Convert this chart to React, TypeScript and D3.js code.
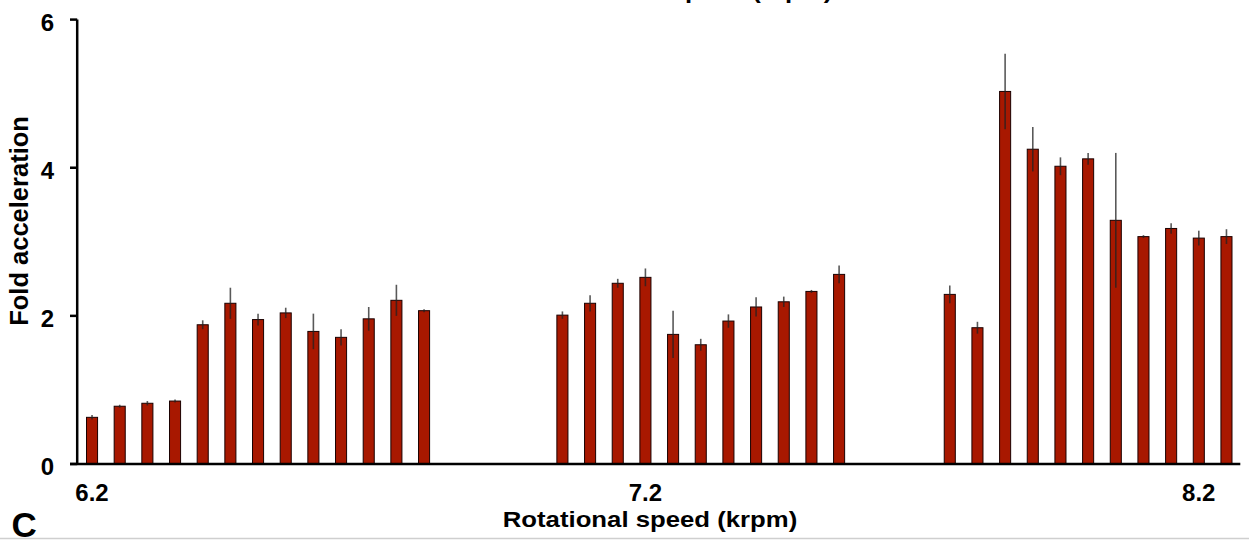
import React from "react";
import * as d3 from "d3";

// Category slots on the rotational-speed axis (krpm)
const slots = [
  "6.20", "6.25", "6.30", "6.35", "6.40", "6.45", "6.50", "6.55", "6.60", "6.65",
  "6.70", "6.75", "6.80", "6.85", "6.90", "6.95", "7.00", "7.05", "7.10", "7.15",
  "7.20", "7.25", "7.30", "7.35", "7.40", "7.45", "7.50", "7.55", "7.60", "7.65",
  "7.70", "7.75", "7.80", "7.85", "7.90", "7.95", "8.00", "8.05", "8.10", "8.15",
  "8.20", "8.25",
];
const tickSlots = ["6.20", "7.20", "8.20"];
const tickLabels = ["6.2", "7.2", "8.2"];
const yTicks = [0, 2, 4, 6];

const group1Speeds = ["6.20", "6.25", "6.30", "6.35", "6.40", "6.45", "6.50", "6.55", "6.60", "6.65", "6.70", "6.75", "6.80"];
const group1Means = [0.63, 0.78, 0.82, 0.85, 1.88, 2.17, 1.95, 2.04, 1.79, 1.71, 1.96, 2.21, 2.07];
const group1Errs = [0.03, 0.02, 0.03, 0.02, 0.06, 0.21, 0.08, 0.07, 0.24, 0.11, 0.16, 0.21, 0.02];

const group2Speeds = ["7.05", "7.10", "7.15", "7.20", "7.25", "7.30", "7.35", "7.40", "7.45", "7.50", "7.55"];
const group2Means = [2.01, 2.17, 2.44, 2.52, 1.75, 1.61, 1.93, 2.12, 2.19, 2.33, 2.56];
const group2Errs = [0.05, 0.11, 0.06, 0.12, 0.32, 0.08, 0.09, 0.13, 0.07, 0.02, 0.12];

const group3Speeds = ["7.75", "7.80", "7.85", "7.90", "7.95", "8.00", "8.05", "8.10", "8.15", "8.20", "8.25"];
const group3Means = [2.29, 1.84, 5.03, 4.25, 4.02, 4.12, 3.29, 3.07, 3.18, 3.05, 3.07];
const group3Errs = [0.12, 0.08, 0.51, 0.3, 0.12, 0.08, 0.91, 0.02, 0.07, 0.1, 0.1];

const xTitle = "Rotational speed (krpm)";
const yTitle = "Fold acceleration";
const panelLabel = "C";

const FONT = "'Liberation Sans', Arial, Helvetica, sans-serif";
const BAR_FILL = "#a81800";

export default function App() {
  const W = 1249;
  const H = 540;
  const x = d3
    .scaleBand<string>()
    .domain(slots)
    .range([78.2, 1240.3])
    .paddingInner(0.6)
    .paddingOuter(0.3);
  const y = d3.scaleLinear().domain([0, 6]).range([464, 19.6]);

  const bars = [
    ...group1Speeds.map((s, i) => ({ s, m: group1Means[i], e: group1Errs[i] })),
    ...group2Speeds.map((s, i) => ({ s, m: group2Means[i], e: group2Errs[i] })),
    ...group3Speeds.map((s, i) => ({ s, m: group3Means[i], e: group3Errs[i] })),
  ];
  const bw = x.bandwidth();
  const axisX = 77.2;

  return (
    <svg
      width={W}
      height={H}
      style={{ position: "absolute", left: 0, top: 0, background: "#fff" }}
      fontFamily={FONT}
    >
      <rect x={0} y={0} width={W} height={H} fill="#fff" />
      {/* cut-off title at top */}
      <text
        transform="translate(685,-2.5) scale(1.17,1)"
        textAnchor="middle"
        fontSize={22}
        fontWeight="bold"
        fill="#000"
      >
        {xTitle}
      </text>

      {/* bars */}
      {bars.map((b, i) => {
        const x0 = x(b.s)!;
        return (
          <rect
            key={"b" + i}
            x={x0}
            y={y(b.m)}
            width={bw}
            height={y(0) - y(b.m)}
            fill={BAR_FILL}
            stroke="#1a0000"
            strokeWidth={1}
          />
        );
      })}
      {/* error bars */}
      {bars.map((b, i) => {
        const cx = x(b.s)! + bw / 2;
        return (
          <line
            key={"e" + i}
            x1={cx}
            x2={cx}
            y1={y(b.m + b.e)}
            y2={y(b.m - b.e)}
            stroke="#222"
            strokeOpacity={0.75}
            strokeWidth={1.6}
          />
        );
      })}

      {/* y axis */}
      <line x1={axisX} x2={axisX} y1={y(6)} y2={y(0)} stroke="#000" strokeWidth={2.5} />
      {yTicks.map((t) => (
        <g key={"yt" + t}>
          <line x1={70} x2={axisX} y1={y(t)} y2={y(t)} stroke="#000" strokeWidth={2.5} />
          <text x={54} y={y(t) + 11} textAnchor="end" fontSize={24} fontWeight="bold" fill="#000">
            {t}
          </text>
        </g>
      ))}
      {/* x axis */}
      <line x1={70} x2={1240.3} y1={y(0)} y2={y(0)} stroke="#000" strokeWidth={2.5} />
      {tickSlots.map((s, i) => (
        <text
          key={"xt" + s}
          x={x(s)! + bw / 2}
          y={500.5}
          textAnchor="middle"
          fontSize={24}
          fontWeight="bold"
          fill="#000"
        >
          {tickLabels[i]}
        </text>
      ))}
      <text
        transform="translate(650,527) scale(1.17,1)"
        textAnchor="middle"
        fontSize={22}
        fontWeight="bold"
        fill="#000"
      >
        {xTitle}
      </text>
      <text
        transform="translate(28,221) rotate(-90)"
        textAnchor="middle"
        fontSize={25.5}
        fontWeight="bold"
        fill="#000"
      >
        {yTitle}
      </text>
      <text x={11.5} y={537} fontSize={35} fontWeight="bold" fill="#000">
        {panelLabel}
      </text>
      <line x1={0} x2={W} y1={538.5} y2={538.5} stroke="#cfcfcf" strokeWidth={1.5} />
    </svg>
  );
}
